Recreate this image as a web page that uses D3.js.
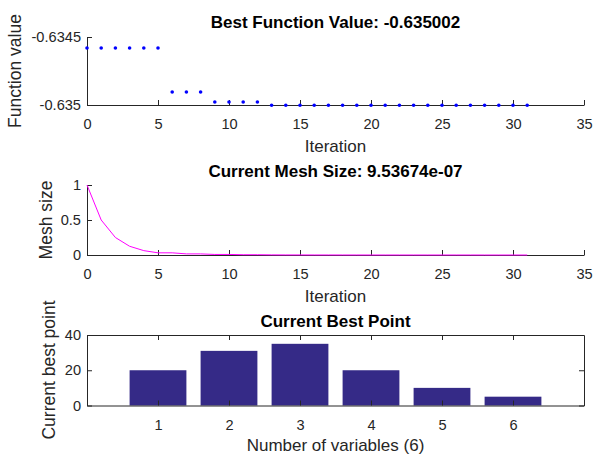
<!DOCTYPE html>
<html>
<head>
<meta charset="utf-8">
<script src="https://cdn.jsdelivr.net/npm/d3@7"></script>
<style>
  html, body { margin: 0; padding: 0; background: #fff; }
  svg { display: block; font-family: Arial, "Liberation Sans", Helvetica, sans-serif; }
  .tick text { font-size: 14.6px; fill: #262626; font-family: Arial, "Liberation Sans", Helvetica, sans-serif; }
  .tick line, .domain { stroke: #262626; }
</style>
</head>
<body>
<svg id="chart" width="593" height="455"></svg>
<script>
// Iterations of the pattern search
const iterations = d3.range(0, 32);

// Best objective value found at each iteration
const bestValues = [
  -0.634581, -0.634581, -0.634581, -0.634581, -0.634581, -0.634581,
  -0.634904, -0.634904, -0.634904,
  -0.634978, -0.634978, -0.634978, -0.634978,
  -0.635002, -0.635002, -0.635002, -0.635002, -0.635002, -0.635002,
  -0.635002, -0.635002, -0.635002, -0.635002, -0.635002, -0.635002,
  -0.635002, -0.635002, -0.635002, -0.635002, -0.635002, -0.635002,
  -0.635002
];

// Mesh size at each iteration
const meshSizes = [
  1, 0.5, 0.25, 0.125, 0.0625, 0.03125, 0.03125, 0.015625, 0.015625,
  0.0078125, 0.0078125, 0.00390625, 0.00390625, 0.001953125,
  0.0009765625, 0.0009765625, 0.00048828125, 0.00048828125,
  0.000244140625, 0.000244140625, 0.0001220703125, 0.0001220703125,
  0.00006103515625, 0.000030517578125, 0.000030517578125,
  0.0000152587890625, 0.00000762939453125, 0.00000762939453125,
  0.000003814697265625, 0.0000019073486328125, 0.0000019073486328125,
  0.00000095367431640625
];

// Current best point, one value per variable
const variables = [1, 2, 3, 4, 5, 6];
const bestPoint = [20, 31, 35, 20, 10, 5];

// Tick labels
const iterTicks = [0, 5, 10, 15, 20, 25, 30, 35];
const fvalTicks = [-0.635, -0.6345];
const fvalTickLabels = ["-0.635", "-0.6345"];
const meshTicks = [0, 0.5, 1];
const meshTickLabels = ["0", "0.5", "1"];
const pointTicks = [0, 20, 40];

const titles = ["Best Function Value: -0.635002", "Current Mesh Size: 9.53674e-07", "Current Best Point"];

const svg = d3.select("#chart");
const left = 87, right = 584, cx = (left + right) / 2;
const tick = 5;

// ---------- Panel 1: best function value ----------
const x1 = d3.scaleLinear().domain([0, 35]).range([left, right]);
const y1 = d3.scaleLinear().domain([-0.635, -0.6345]).range([105, 37]);

svg.append("g").attr("transform", "translate(0,105)")
  .call(d3.axisBottom(x1).tickValues(iterTicks).tickSizeInner(-tick).tickSizeOuter(0).tickPadding(14));
svg.append("g").attr("transform", `translate(${left},0)`)
  .call(d3.axisLeft(y1).tickValues(fvalTicks).tickFormat((d, i) => fvalTickLabels[i])
    .tickSizeInner(-tick).tickSizeOuter(0).tickPadding(6));

svg.append("g").selectAll("circle").data(iterations).join("circle")
  .attr("cx", d => x1(d)).attr("cy", (d, i) => y1(bestValues[i]))
  .attr("r", 1.8).attr("fill", "#0000ff");

// ---------- Panel 2: mesh size ----------
const x2 = d3.scaleLinear().domain([0, 35]).range([left, right]);
const y2 = d3.scaleLinear().domain([0, 1]).range([255, 185]);

svg.append("g").attr("transform", "translate(0,255)")
  .call(d3.axisBottom(x2).tickValues(iterTicks).tickSizeInner(-tick).tickSizeOuter(0).tickPadding(14));
svg.append("g").attr("transform", `translate(${left},0)`)
  .call(d3.axisLeft(y2).tickValues(meshTicks).tickFormat((d, i) => meshTickLabels[i])
    .tickSizeInner(-tick).tickSizeOuter(0).tickPadding(6));

svg.append("path").datum(iterations)
  .attr("fill", "none").attr("stroke", "#ff00ff").attr("stroke-width", 1)
  .attr("d", d3.line().x(d => x2(d)).y((d, i) => y2(meshSizes[i])));

// ---------- Panel 3: current best point ----------
const x3 = d3.scaleLinear().domain([0, 7]).range([left, right]);
const y3 = d3.scaleLinear().domain([0, 40]).range([405.5, 335]);
const barW = x3(0.8) - x3(0);

svg.append("g").selectAll("rect").data(variables).join("rect")
  .attr("x", d => x3(d) - barW / 2)
  .attr("y", (d, i) => y3(bestPoint[i]))
  .attr("width", barW)
  .attr("height", (d, i) => y3(0) - y3(bestPoint[i]))
  .attr("fill", "#352a87");

svg.append("g").attr("transform", `translate(0,${y3(0)})`)
  .call(d3.axisBottom(x3).tickValues(variables).tickFormat(d3.format("d"))
    .tickSizeInner(-tick).tickSizeOuter(0).tickPadding(14));
svg.append("g").attr("transform", `translate(0,${y3(40)})`)
  .call(d3.axisTop(x3).tickValues(variables).tickFormat("").tickSizeInner(-tick).tickSizeOuter(0));
svg.append("g").attr("transform", `translate(${left},0)`)
  .call(d3.axisLeft(y3).tickValues(pointTicks).tickSizeInner(-tick).tickSizeOuter(0).tickPadding(6));
svg.append("g").attr("transform", `translate(${right},0)`)
  .call(d3.axisRight(y3).tickValues(pointTicks).tickFormat("").tickSizeInner(-tick).tickSizeOuter(0));

// ---------- Titles and axis labels ----------
const titleY = [28, 177, 327];
titles.forEach((t, i) => {
  svg.append("text").attr("x", cx).attr("y", titleY[i])
    .attr("text-anchor", "middle").attr("font-weight", "bold")
    .attr("font-size", 17).attr("fill", "#000").text(t);
});

const xLabels = [["Iteration", 151.5], ["Iteration", 302], ["Number of variables (6)", 450.5]];
xLabels.forEach(([t, y]) => {
  svg.append("text").attr("x", cx).attr("y", y)
    .attr("text-anchor", "middle").attr("font-size", 17).attr("fill", "#262626").text(t);
});

const yLabels = [["Function value", 21, 71], ["Mesh size", 51.5, 220], ["Current best point", 55, 370]];
yLabels.forEach(([t, x, y]) => {
  svg.append("text").attr("transform", `translate(${x},${y}) rotate(-90)`)
    .attr("text-anchor", "middle").attr("font-size", 17.5).attr("fill", "#262626").text(t);
});
</script>
</body>
</html>
